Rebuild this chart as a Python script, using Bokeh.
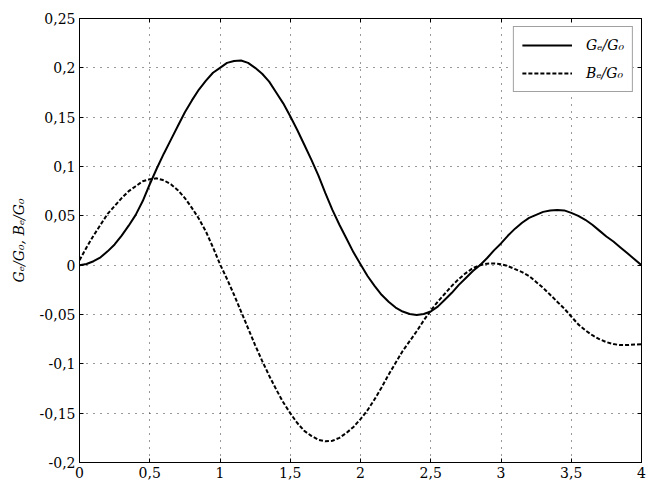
from bokeh.plotting import figure
from bokeh.models import (Range1d, LinearAxis, FixedTicker, CustomJSTickFormatter,
                          Legend, LegendItem)
from bokeh.embed import file_html
from bokeh.resources import INLINE

# ---- data ----
x_vals = [0.00, 0.05, 0.10, 0.15, 0.20, 0.25, 0.30, 0.35, 0.40, 0.45,
          0.50, 0.55, 0.60, 0.65, 0.70, 0.75, 0.80, 0.85, 0.90, 0.95,
          1.00, 1.05, 1.10, 1.15, 1.20, 1.25, 1.30, 1.35, 1.40, 1.45,
          1.50, 1.55, 1.60, 1.65, 1.70, 1.75, 1.80, 1.85, 1.90, 1.95,
          2.00, 2.05, 2.10, 2.15, 2.20, 2.25, 2.30, 2.35, 2.40, 2.45,
          2.50, 2.55, 2.60, 2.65, 2.70, 2.75, 2.80, 2.85, 2.90, 2.95,
          3.00, 3.05, 3.10, 3.15, 3.20, 3.25, 3.30, 3.35, 3.40, 3.45,
          3.50, 3.55, 3.60, 3.65, 3.70, 3.75, 3.80, 3.85, 3.90, 3.95, 4.00]

ge_g0 = [0.000, 0.0012, 0.004, 0.008, 0.014, 0.021, 0.030, 0.040, 0.051, 0.065,
         0.082, 0.098, 0.113, 0.127, 0.141, 0.155, 0.167, 0.178, 0.187, 0.195,
         0.200, 0.205, 0.207, 0.2075, 0.205, 0.200, 0.194, 0.186, 0.175, 0.164,
         0.151, 0.137, 0.122, 0.107, 0.091, 0.073, 0.056, 0.041, 0.027, 0.013,
         0.001, -0.011, -0.021, -0.030, -0.037, -0.043, -0.047, -0.0495, -0.0505, -0.0495,
         -0.047, -0.042, -0.035, -0.028, -0.020, -0.013, -0.006, 0.000, 0.007, 0.015,
         0.022, 0.030, 0.037, 0.043, 0.048, 0.051, 0.054, 0.0555, 0.056, 0.0555,
         0.053, 0.050, 0.046, 0.041, 0.035, 0.029, 0.024, 0.018, 0.012, 0.006, 0.000]

be_g0 = [0.005, 0.018, 0.030, 0.041, 0.052, 0.060, 0.068, 0.075, 0.080, 0.085,
         0.087, 0.088, 0.086, 0.082, 0.076, 0.068, 0.058, 0.047, 0.034, 0.018,
         0.001, -0.014, -0.030, -0.047, -0.064, -0.081, -0.097, -0.112, -0.126, -0.139,
         -0.150, -0.160, -0.168, -0.173, -0.177, -0.1785, -0.178, -0.175, -0.170, -0.164,
         -0.156, -0.147, -0.136, -0.124, -0.111, -0.099, -0.087, -0.077, -0.067, -0.056,
         -0.046, -0.037, -0.029, -0.021, -0.014, -0.008, -0.003, 0.000, 0.0015, 0.0017,
         0.001, -0.001, -0.004, -0.007, -0.011, -0.017, -0.023, -0.030, -0.037, -0.044,
         -0.052, -0.060, -0.066, -0.071, -0.075, -0.078, -0.080, -0.081, -0.081, -0.0805, -0.080]

x_ticks = [0, 0.5, 1, 1.5, 2, 2.5, 3, 3.5, 4]
x_tick_labels = ["0", "0,5", "1", "1,5", "2", "2,5", "3", "3,5", "4"]
y_ticks = [-0.2, -0.15, -0.1, -0.05, 0, 0.05, 0.1, 0.15, 0.2, 0.25]
y_tick_labels = ["-0,2", "-0,15", "-0,1", "-0,05", "0", "0,05", "0,1", "0,15", "0,2", "0,25"]

series_labels = ["G\u2091/G\u2080", "B\u2091/G\u2080"]
y_axis_label = "G\u2091/G\u2080, B\u2091/G\u2080"

FONT = "DejaVu Serif"

p = figure(width=646, height=484, x_range=Range1d(0, 4), y_range=Range1d(-0.2, 0.25),
           output_backend="svg", toolbar_location=None,
           min_border_left=79, min_border_right=5, min_border_top=18, min_border_bottom=22,
           background_fill_color="white", border_fill_color="white")
p.outline_line_color = "black"
p.outline_line_width = 1

def fmt(tv, tl):
    return CustomJSTickFormatter(args=dict(tv=tv, tl=tl), code="""
        let best = 0, d = Infinity;
        for (let i = 0; i < tv.length; i++) {
            const e = Math.abs(tv[i] - tick);
            if (e < d) { d = e; best = i; }
        }
        return tl[best];
    """)

def style_axis(ax, show_labels):
    ax.major_tick_in = 4
    ax.major_tick_out = 0
    ax.minor_tick_line_color = None
    ax.axis_line_color = "black"
    ax.major_tick_line_color = "black"
    ax.major_label_text_font = FONT
    ax.major_label_text_font_size = "14px" if show_labels else "1px"
    ax.major_label_text_color = "black"
    ax.major_label_standoff = 4 if show_labels else 0

p.xaxis.ticker = FixedTicker(ticks=x_ticks)
p.xaxis.formatter = fmt(x_ticks, x_tick_labels)
p.yaxis.ticker = FixedTicker(ticks=y_ticks)
p.yaxis.formatter = fmt(y_ticks, y_tick_labels)
style_axis(p.xaxis[0], True)
style_axis(p.yaxis[0], True)
p.yaxis.axis_label = y_axis_label
p.yaxis.axis_label_text_font = FONT
p.yaxis.axis_label_text_font_style = "italic"
p.yaxis.axis_label_text_font_size = "14px"
p.yaxis.axis_label_text_color = "black"
p.yaxis.axis_label_standoff = 10

blank = CustomJSTickFormatter(code="return '';")
top_ax = LinearAxis(ticker=FixedTicker(ticks=x_ticks), formatter=blank)
right_ax = LinearAxis(ticker=FixedTicker(ticks=y_ticks), formatter=blank)
style_axis(top_ax, False)
style_axis(right_ax, False)
p.add_layout(top_ax, "above")
p.add_layout(right_ax, "right")

p.xgrid.ticker = FixedTicker(ticks=x_ticks)
p.ygrid.ticker = FixedTicker(ticks=y_ticks)
for g in (p.xgrid, p.ygrid):
    g.grid_line_color = "#333333"
    g.grid_line_dash = "1 6"
    g.grid_line_width = 1

r1 = p.line(x_vals, ge_g0, line_color="black", line_width=2)
r2 = p.line(x_vals, be_g0, line_color="black", line_width=2, line_dash="4 2")

legend = Legend(items=[LegendItem(label=series_labels[0], renderers=[r1]),
                       LegendItem(label=series_labels[1], renderers=[r2])],
                location="top_right", margin=8, padding=8, spacing=8,
                glyph_width=50, glyph_height=20, label_standoff=14,
                label_text_font=FONT, label_text_font_style="italic",
                label_text_font_size="14px", label_text_color="black",
                border_line_color="#444444", border_line_width=1.5,
                background_fill_color="white", background_fill_alpha=1)
p.add_layout(legend)

open("out.html", "w").write(file_html(p, INLINE))
